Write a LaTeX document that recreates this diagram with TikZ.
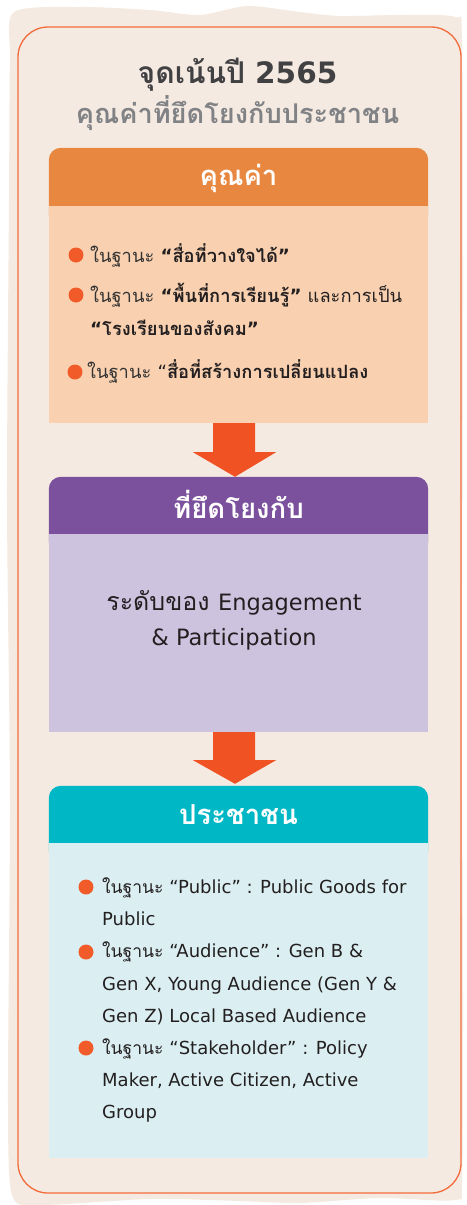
\documentclass[tikz,border=0pt]{standalone}
\usepackage{fontspec}
\usetikzlibrary{calc}
\newfontfamily\thai[Script=Thai]{Loma}
\newfontfamily\latfont{DejaVu Sans}
\setmainfont[Script=Thai]{Loma}
\newcommand\latn[1]{{\latfont #1}}
\pgfdeclarelayer{back}
\pgfsetlayers{back,main}
\definecolor{bgc}{HTML}{F5EAE1}
\definecolor{linec}{HTML}{F26B3A}
\definecolor{h1c}{HTML}{E8873F}
\definecolor{b1c}{HTML}{F9D1B0}
\definecolor{h2c}{HTML}{7B519D}
\definecolor{b2c}{HTML}{CDC3DF}
\definecolor{h3c}{HTML}{00B7C5}
\definecolor{b3c}{HTML}{DBEFF2}
\definecolor{arrc}{HTML}{F05224}
\definecolor{dotc}{HTML}{F15A29}
\definecolor{titc}{HTML}{414042}
\definecolor{subc}{HTML}{808285}
\definecolor{txtc}{HTML}{231F20}
\definecolor{thinc}{HTML}{333333}
\begin{document}
\begin{tikzpicture}[x=1pt,y=-1pt,
  hdr/.style={minimum width=379pt,minimum height=58pt,inner sep=0pt,text=white,font=\thai\bfseries\fontsize{27.5}{30}\selectfont},
  bodybox/.style={minimum width=379pt,inner sep=0pt},
  dot/.style={circle,fill=dotc,minimum size=15pt,inner sep=0pt},
  itm/.style={anchor=base west,inner sep=0pt,text=txtc,font=\thai\fontsize{18.3}{22}\selectfont},
  itmb/.style={anchor=base west,inner sep=0pt,text=txtc,font=\thai\fontsize{17.5}{22}\selectfont},
  arrowshape/.style={fill=arrc}]
\useasboundingbox (0,0) rectangle (466,1205);
% titles
\node[anchor=base,inner sep=0pt,text=titc,font=\thai\bfseries\fontsize{30}{32}\selectfont] (title) at (237.5,83) {จุดเน้นปี \latn{\fontsize{29.5}{32}\selectfont 2565}};
\node[anchor=base,inner sep=0pt,text=subc,font=\thai\bfseries\fontsize{27.2}{30}\selectfont] (subtitle) at (237.5,123) {คุณค่าที่ยึดโยงกับประชาชน};
% box 1
\node[hdr,minimum height=58pt,text height=16pt,text depth=0pt] (h1) at (238.5,177) {คุณค่า};
\node[bodybox,minimum height=217pt] (b1) at (238.5,314.5) {};
% box 2
\node[hdr,minimum height=57pt,text height=25pt,text depth=0pt] (h2) at (238.5,505.5) {ที่ยึดโยงกับ};
\node[bodybox,minimum height=198pt] (b2) at (238.5,633) {};
% box 3
\node[hdr,minimum height=57pt,text height=20pt,text depth=0pt] (h3) at (238.5,814.5) {ประชาชน};
\node[bodybox,minimum height=315pt] (b3) at (238.5,1000.5) {};
\begin{pgfonlayer}{back}
\fill[bgc] plot[smooth cycle,tension=0.45] coordinates {(14,12) (80,7) (150,10) (200,15) (247,6) (300,12) (340,16) (400,15) (455,17) (462,40) (463,300) (462,700) (463,1000) (462,1180) (455,1200) (380,1198) (300,1203) (240,1201) (150,1199) (40,1205) (12,1195) (8,1100) (10,800) (7,500) (9,200) (10,60)};
\draw[linec,line width=1.3pt,rounded corners=30pt] (18,27) rectangle (461,1193);
\fill[h1c,rounded corners=12pt] (h1.north west) rectangle ($(h1.south east)+(0,20)$);
\fill[b1c] (b1.north west) rectangle (b1.south east);
\fill[h2c,rounded corners=12pt] (h2.north west) rectangle ($(h2.south east)+(0,20)$);
\fill[b2c] (b2.north west) rectangle (b2.south east);
\fill[h3c,rounded corners=12pt] (h3.north west) rectangle ($(h3.south east)+(0,20)$);
\fill[b3c] (b3.north west) rectangle (b3.south east);
\end{pgfonlayer}
% arrows
\fill[arrowshape] ($(b1.south)+(-25.5,0)$) -- ++(0,29) -- ++(-20,0) -- ($(h2.north)+(-3.5,0)$) -- ($(b1.south)+(37.5,29)$) -- ++(-21,0) -- ($(b1.south)+(16.5,0)$) -- cycle;
\fill[arrowshape] ($(b2.south)+(-25.5,0)$) -- ++(0,28) -- ++(-20,0) -- ($(h3.north)+(-3.5,-2)$) -- ($(b2.south)+(37.5,28)$) -- ++(-21,0) -- ($(b2.south)+(16.5,0)$) -- cycle;
% box 1 items
\node[dot] (d11) at (76,255) {};
\node[itm] (t11) at (90,262) {{\color{thinc}ในฐานะ} \textbf{\latn{“}สื่อที่วางใจได้\latn{”}}};
\node[dot] (d12) at (76,295) {};
\node[itm] (t12) at (90,302) {{\color{thinc}ในฐานะ} \textbf{\latn{“}พื้นที่การเรียนรู้\latn{”}} และการเป็น};
\node[itm] (t12b) at (90,335) {\textbf{\latn{“}โรงเรียนของสังคม\latn{”}}};
\node[dot] (d13) at (75,372) {};
\node[itm] (t13) at (87,378) {{\color{thinc}ในฐานะ} \latn{“}\textbf{สื่อที่สร้างการเปลี่ยนแปลง}};
% box 2 text
\node[anchor=base,inner sep=0pt,text=txtc,font=\thai\fontsize{25}{26}\selectfont] (t21) at (234,610) {ระดับของ \latn{\fontsize{22.5}{26}\selectfont Engagement}};
\node[anchor=base,inner sep=0pt,text=txtc,font=\latfont\fontsize{22.5}{26}\selectfont] (t22) at (234,645) {\& Participation};
% box 3 items
\node[dot] (d31) at (86,887) {};
\node[itmb] (t31) at (102,893) {ในฐานะ \latn{\fontsize{18}{22}\selectfont “Public” : Public Goods for}};
\node[itmb,font=\latfont\fontsize{18}{22}\selectfont] (t31b) at (102,925) {Public};
\node[dot] (d32) at (86,952) {};
\node[itmb] (t32) at (102,957) {ในฐานะ \latn{\fontsize{18}{22}\selectfont “Audience” : Gen B \&}};
\node[itmb,font=\latfont\fontsize{18}{22}\selectfont] (t32b) at (102,990) {Gen X, Young Audience (Gen Y \&};
\node[itmb,font=\latfont\fontsize{18}{22}\selectfont] (t32c) at (102,1022) {Gen Z) Local Based Audience};
\node[dot] (d33) at (86,1048) {};
\node[itmb] (t33) at (102,1054) {ในฐานะ \latn{\fontsize{18}{22}\selectfont “Stakeholder” : Policy}};
\node[itmb,font=\latfont\fontsize{18}{22}\selectfont] (t33b) at (102,1086) {Maker, Active Citizen, Active};
\node[itmb,font=\latfont\fontsize{18}{22}\selectfont] (t33c) at (102,1118) {Group};
\end{tikzpicture}
\end{document}
